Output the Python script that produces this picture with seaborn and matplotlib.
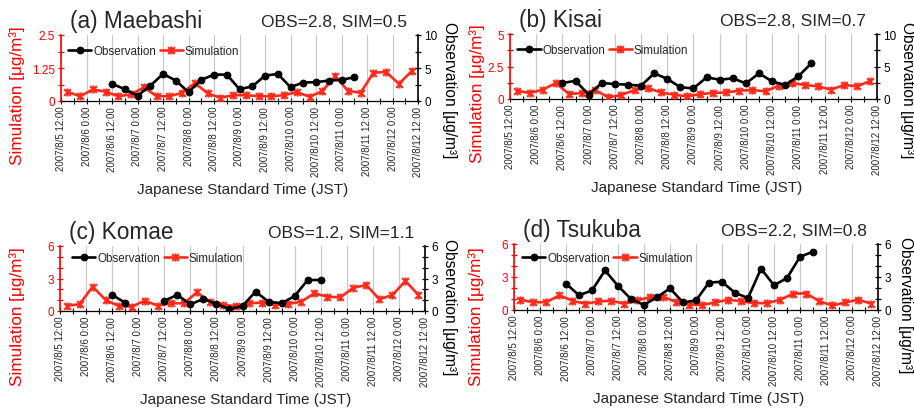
import numpy as np
import pandas as pd
import seaborn as sns
import matplotlib.pyplot as plt
from matplotlib.lines import Line2D
from matplotlib.path import Path

sns.set_theme(style="ticks")
plt.rcParams["font.family"] = ["Liberation Sans", "DejaVu Sans"]

W, H = 914, 410
RED = "#ff0000"
SIM_RED = "#ff2a1a"

# times in JST: model every 6 h from 8/5 15:00, observation every 6 h from 8/6 12:00
sim_times = pd.date_range("2007-08-05 15:00", periods=28, freq="6h")
obs_times = pd.date_range("2007-08-06 12:00", periods=20, freq="6h")
tick_times = pd.date_range("2007-08-05 12:00", "2007-08-12 12:00", freq="12h")
minor_times = pd.date_range("2007-08-05 12:00", "2007-08-12 12:00", freq="6h")
tick_labels = [f"{t.year}/{t.month}/{t.day} {t.hour}:00" for t in tick_times]

# (a) Maebashi
sim_a = [0.35, 0.18, 0.44, 0.35, 0.18, 0.25, 0.52, 0.18, 0.18, 0.31, 0.68, 0.29, 0.12, 0.22,
         0.22, 0.18, 0.18, 0.22, 0.34, 0.16, 0.38, 0.94, 0.39, 0.31, 1.07, 1.10, 0.65, 1.13]
obs_a = [2.6, 1.8, 0.8, 2.3, 4.1, 3.1, 1.35, 3.2, 4.0, 4.0, 1.8, 2.2, 3.85, 4.1, 2.1, 2.8,
         2.85, 3.1, 3.2, 3.6]

# (b) Kisai
sim_b = [0.64, 0.46, 0.72, 1.23, 0.38, 0.46, 0.69, 0.13, 0.31, 0.69, 0.85, 0.51, 0.33, 0.20,
         0.38, 0.46, 0.51, 0.64, 0.69, 0.59, 1.03, 1.23, 1.08, 0.97, 0.72, 1.08, 0.97, 1.41]
obs_b = [2.46, 2.8, 0.67, 2.46, 2.3, 2.2, 2.05, 3.95, 3.1, 1.8, 1.64, 3.33, 2.97, 3.18, 2.4,
         3.95, 2.7, 2.15, 3.5, 5.5]

# (c) Komae  (no observation on 8/7 0:00 and 6:00, data end 8/10 12:00)
sim_c = [0.49, 0.62, 2.25, 1.02, 0.46, 0.40, 0.95, 0.49, 0.71, 0.71, 1.72, 0.86, 0.55, 0.46,
         0.71, 0.77, 0.55, 0.65, 0.86, 1.63, 1.32, 1.26, 2.15, 2.40, 1.08, 1.48, 2.77, 1.48]
obs_c = [1.48, 0.77, np.nan, np.nan, 0.95, 1.48, 0.62, 1.11, 0.65, 0.18, 0.46, 1.78, 0.86,
         0.71, 1.38, 2.86, 2.86]

# (d) Tsukuba
sim_d = [0.94, 0.69, 0.72, 1.34, 0.84, 0.56, 0.78, 0.84, 0.56, 0.87, 1.19, 1.19, 0.72, 0.47,
         0.47, 0.69, 0.94, 0.78, 0.62, 0.62, 0.94, 1.50, 1.50, 0.78, 0.41, 0.69, 0.94, 0.56]
obs_d = [2.4, 1.34, 1.78, 3.6, 2.19, 1.0, 0.47, 1.16, 1.97, 0.69, 0.87, 2.5, 2.56, 1.56, 1.09,
         3.75, 2.25, 2.9, 4.84, 5.3]

titles = ["(a) Maebashi", "(b) Kisai", "(c) Komae", "(d) Tsukuba"]
stats = ["OBS=2.8, SIM=0.5", "OBS=2.8, SIM=0.7", "OBS=1.2, SIM=1.1", "OBS=2.2, SIM=0.8"]

# star marker like the spreadsheet one: an x with a vertical bar
star = Path([(-1, -1), (1, 1), (-1, 1), (1, -1), (0, -1.2), (0, 1.2)],
            [Path.MOVETO, Path.LINETO, Path.MOVETO, Path.LINETO, Path.MOVETO, Path.LINETO])

sim_style = dict(color=SIM_RED, lw=1.9, marker=star, ms=5.8, mec=SIM_RED, mew=1.5)
obs_style = dict(color="black", lw=1.9, marker="o", ms=4.8, mec="black", mew=0.8)


def fx(x):
    return x / W


def fy(y):
    return 1 - y / H


def draw_panel(fig, box, sim, obs, title, stat, sim_ticks, sim_lbls, obs_ticks, obs_lbls,
               legend_pos, label_pos):
    left, top, right, bottom = box
    ax = fig.add_axes([fx(left), fy(bottom), (right - left) / W, (bottom - top) / H])
    ax2 = ax.twinx()

    sim_df = pd.DataFrame({"time": sim_times, "value": sim})
    sns.lineplot(data=sim_df, x="time", y="value", ax=ax, estimator=None, legend=False,
                 zorder=3, **sim_style)

    obs_df = pd.DataFrame({"time": obs_times[:len(obs)], "value": obs})
    obs_df["seg"] = obs_df["value"].isna().cumsum()
    obs_df = obs_df.dropna()
    sns.lineplot(data=obs_df, x="time", y="value", units="seg", estimator=None, ax=ax2,
                 legend=False, zorder=3, **obs_style)

    ax.set_xlim(tick_times[0], tick_times[-1])
    ax.set_ylim(sim_ticks[0], sim_ticks[-1])
    ax2.set_ylim(obs_ticks[0], obs_ticks[-1])

    ax.set_xticks(tick_times)
    ax.set_xticklabels(tick_labels)
    ax.set_xticks(minor_times, minor=True)
    ax.tick_params(axis="x", which="both", direction="inout", length=4, width=0.8,
                   color="black", labelsize=7, labelrotation=90, pad=1.5)
    ax.xaxis.grid(True, which="major", color="#c8c8c8", lw=0.8)

    ax.set_yticks(sim_ticks)
    ax.set_yticklabels(sim_lbls)
    ax.tick_params(axis="y", direction="inout", length=5, width=0.9, colors=RED,
                   labelsize=8.5, pad=2)
    ax2.set_yticks(obs_ticks)
    ax2.set_yticklabels(obs_lbls)
    ax2.tick_params(axis="y", direction="inout", length=5, width=0.9, colors="black",
                    labelsize=8.5, pad=2)

    ax.set_xlabel("")
    ax.set_ylabel("")
    ax2.set_ylabel("")
    for s in ["top", "right"]:
        ax.spines[s].set_visible(False)
    for s in ["top", "left", "bottom"]:
        ax2.spines[s].set_visible(False)
    ax.spines["left"].set_color(RED)
    ax.spines["left"].set_linewidth(1.2)
    ax.spines["bottom"].set_color("black")
    ax.spines["bottom"].set_linewidth(0.9)
    ax2.spines["right"].set_color("black")
    ax2.spines["right"].set_linewidth(1.2)

    handles = [Line2D([], [], **obs_style), Line2D([], [], **sim_style)]
    ax2.legend(handles, ["Observation", "Simulation"], loc="center left",
               bbox_to_anchor=legend_pos, ncol=2, frameon=False, fontsize=8.4,
               handlelength=2.0, handletextpad=0.15, columnspacing=0.3,
               borderaxespad=0, borderpad=0)

    # titles, axis labels (pixel positions)
    fig.text(fx(left + 9), fy(top - 8), title, fontsize=16.3, ha="left", va="baseline")
    fig.text(fx(right - 11), fy(top - 9), stat, fontsize=12.5, ha="right", va="baseline")
    fig.text(fx((left + right) / 2 + 3), fy(bottom + 92), "Japanese Standard Time (JST)",
             fontsize=11, ha="center", va="baseline")
    (lx, ly), (rx, ry) = label_pos
    fig.text(fx(lx), fy(ly), "Simulation [μg/m³]", color=RED, fontsize=12.3,
             rotation=90, ha="center", va="center")
    fig.text(fx(rx), fy(ry), "Observation [μg/m³]", color="black", fontsize=11.2,
             rotation=270, ha="center", va="center")


fig = plt.figure(figsize=(W / 100, H / 100), dpi=100)

draw_panel(fig, (61, 36, 418, 102), sim_a, obs_a, titles[0], stats[0],
           [0, 0.625, 1.25, 1.875, 2.5], ["0", "", "1.25", "", "2.5"],
           [0, 2.5, 5, 7.5, 10], ["0", "", "5", "", "10"],
           (0.02, 0.76), ((17, 96), (450, 90)))
draw_panel(fig, (510, 35, 877, 100), sim_b, obs_b, titles[1], stats[1],
           [0, 1.25, 2.5, 3.75, 5], ["0", "", "2.5", "", "5"],
           [0, 2.5, 5, 7.5, 10], ["0", "", "5", "", "10"],
           (0.02, 0.76), ((477, 94), (907, 90)))
draw_panel(fig, (60, 247, 425, 312), sim_c, obs_c, titles[2], stats[2],
           [0, 1, 2, 3, 4, 5, 6], ["0", "", "", "3", "", "", "6"],
           [0, 1, 2, 3, 4, 5, 6], ["0", "", "", "3", "", "", "6"],
           (0.033, 0.82), ((17, 317), (450, 307)))
draw_panel(fig, (514, 245, 878, 311), sim_d, obs_d, titles[3], stats[3],
           [0, 1, 2, 3, 4, 5, 6], ["0", "", "", "3", "", "", "6"],
           [0, 1, 2, 3, 4, 5, 6], ["0", "", "", "3", "", "", "6"],
           (0.022, 0.79), ((476, 317), (905, 305)))

fig.savefig("out.png", dpi=100)
